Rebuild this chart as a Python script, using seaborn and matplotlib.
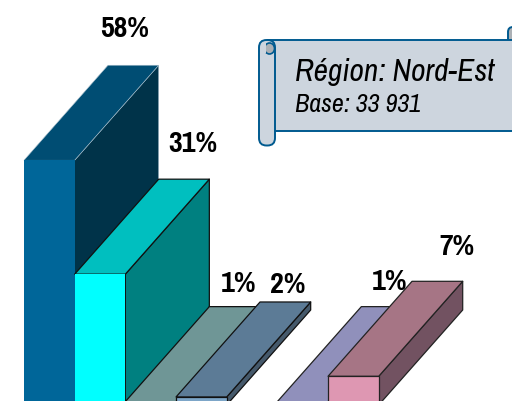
import numpy as np
import matplotlib
matplotlib.use("Agg")
import matplotlib.pyplot as plt
from matplotlib.patches import Polygon, FancyBboxPatch, Rectangle, Ellipse
from matplotlib.transforms import Affine2D
import seaborn as sns

categories = ["A", "B", "C", "D", " ", "E", "F"]
values = [58, 31, 0.8, 1.9, np.nan, 0.8, 6.8]
labels = ["58%", "31%", "1%", "2%", "", "1%", "7%"]

front_colors = ["#006699", "#00FFFF", "#8FBDBD", "#7DA6C8", "#FFFFFF", "#B4B4E0", "#DE97B2"]
top_colors = ["#004D73", "#00BFBF", "#6F9696", "#5C7B96", "#FFFFFF", "#9090BB", "#A67585"]
side_colors = ["#003349", "#008080", "#4F6B6B", "#45596B", "#FFFFFF", "#666688", "#725261"]
edge_colors = ["#A9BFCC", "#111111", "#111111", "#111111", "#111111", "#222222", "#222222"]

W, H = 512, 402
BAR_PX, LEFT_PX, BASE_PX, PX_PER_UNIT = 50.67, 24.0, 406.0, 4.22
DEPTH_X, DEPTH_Y = 84 / BAR_PX, 95 / PX_PER_UNIT
label_offsets = [(-9, 38), (9, 37), (4, 24), (2, 18), (0, 0), (3, 26), (20, 36)]
NARROW_BOLD = ["Pragati Narrow", "PT Sans Narrow", "Liberation Sans"]
NARROW = ["Archivo Narrow", "Liberation Sans"]

sns.set_theme(style="white")
fig = plt.figure(figsize=(W / 100, H / 100), dpi=100)
ax = fig.add_axes([0, 0, 1, 1])
sns.barplot(x=categories, y=values, hue=categories, palette=front_colors, order=categories,
            hue_order=categories, width=1, dodge=False, legend=False, ax=ax, saturation=1)
ax.set_xlim(-0.5 - LEFT_PX / BAR_PX, -0.5 + (W - LEFT_PX) / BAR_PX)
ax.set_ylim((BASE_PX - H) / PX_PER_UNIT, BASE_PX / PX_PER_UNIT)
ax.axis("off")

for i, (v, lab) in enumerate(zip(values, labels)):
    if np.isnan(v):
        continue
    x0, x1 = i - 0.5, i + 0.5
    z = 3 + i
    lw = 0.4 if i == 0 else 0.9
    side = [(x1, 0), (x1, v), (x1 + DEPTH_X, v + DEPTH_Y), (x1 + DEPTH_X, DEPTH_Y)]
    top = [(x0, v), (x1, v), (x1 + DEPTH_X, v + DEPTH_Y), (x0 + DEPTH_X, v + DEPTH_Y)]
    ax.add_patch(Polygon(side, fc=side_colors[i], ec=edge_colors[i], lw=lw, zorder=z, joinstyle="round"))
    ax.add_patch(Polygon(top, fc=top_colors[i], ec=edge_colors[i], lw=lw, zorder=z + 0.1, joinstyle="round"))
    ax.add_patch(Rectangle((x0, 0), 1, v, fc=front_colors[i], ec=edge_colors[i] if i > 1 else "none", lw=lw, zorder=z + 0.2))
    dx, dy = label_offsets[i]
    ax.annotate(lab, xy=(i + DEPTH_X, v + DEPTH_Y), xytext=(dx, dy), textcoords="offset pixels",
                ha="center", va="center", fontsize=23.5, fontweight="bold",
                family=NARROW_BOLD, color="black", zorder=30)

# scroll banner, in pixel coordinates
px = Affine2D().scale(1, -1).translate(0, H)
scroll_fc, scroll_ec = "#CDD5DE", "#005A8F"
z = 20
ax.add_patch(FancyBboxPatch((508, 28), 14, 20, boxstyle="round,pad=0,rounding_size=5", fc="#ABB0B5", ec=scroll_ec, lw=1.4, transform=px, zorder=z))
ax.add_patch(Rectangle((268, 41), 260, 91, fc=scroll_fc, ec=scroll_ec, lw=1.4, transform=px, zorder=z + 1))
ax.add_patch(FancyBboxPatch((259, 41), 16, 105.5, boxstyle="round,pad=0,rounding_size=7.5", fc=scroll_fc, ec=scroll_ec, lw=1.4, transform=px, zorder=z + 2))
ax.add_patch(Ellipse((269.5, 49.5), 10, 11, fc="#ABB0B5", ec=scroll_ec, lw=1.2, transform=px, zorder=z + 3))
ax.add_patch(Rectangle((262, 44), 3.5, 10, fc=scroll_fc, ec="none", transform=px, zorder=z + 3))
ax.text(295, 72, "Région: Nord-Est", transform=px, ha="left", va="center", fontsize=22.7, style="italic",
        family=NARROW, color="black", zorder=z + 4)
ax.text(295, 105, "Base: 33 931", transform=px, ha="left", va="center", fontsize=18.8, style="italic",
        family=NARROW, color="black", zorder=z + 4)

fig.savefig("out.png", dpi=100)
